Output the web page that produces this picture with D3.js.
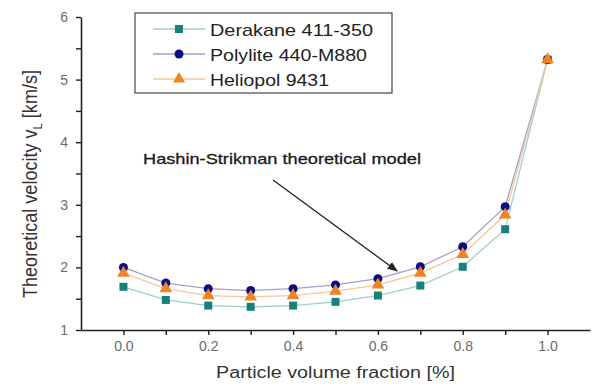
<!DOCTYPE html>
<html>
<head>
<meta charset="utf-8">
<script src="https://cdn.jsdelivr.net/npm/d3@7"></script>
<style>
  body { margin: 0; background: #fff; }
  svg { display: block; font-family: Arial, "Liberation Sans", sans-serif; }
</style>
</head>
<body>
<svg id="chart" width="592" height="387"></svg>
<script>
// data
const fractions = [0.0, 0.1, 0.2, 0.3, 0.4, 0.5, 0.6, 0.7, 0.8, 0.9, 1.0];
const derakane = [1.69, 1.48, 1.39, 1.37, 1.39, 1.45, 1.55, 1.71, 2.01, 2.61, 5.32];
const polylite = [2.00, 1.75, 1.66, 1.63, 1.66, 1.72, 1.82, 2.01, 2.33, 2.97, 5.32];
const heliopol = [1.91, 1.66, 1.55, 1.53, 1.55, 1.62, 1.72, 1.91, 2.21, 2.84, 5.32];
const seriesNames = ['Derakane 411-350', 'Polylite 440-M880', 'Heliopol 9431'];
const xTicks = [0.0, 0.2, 0.4, 0.6, 0.8, 1.0];
const yTicks = [1, 2, 3, 4, 5, 6];

// the source image is stretched sideways, so text widths are fitted
const legendWidths = [163, 157, 119];

const series = [
    { name: seriesNames[0], values: derakane, marker: d3.symbolSquare, color: '#17807c', line: '#9ccfcc' },
    { name: seriesNames[1], values: polylite, marker: d3.symbolCircle, color: '#0c0c84', line: '#a0a0cc' },
    { name: seriesNames[2], values: heliopol, marker: d3.symbolTriangle, color: '#f08424', line: '#f4c898' }
];

const svg = d3.select('#chart');
const x = d3.scaleLinear().domain([-0.1, 1.1]).range([81, 590]);
const y = d3.scaleLinear().domain([1, 6]).range([330, 17]);

// axes - ticks outward, minor ticks unlabeled
const xAxis = d3.axisBottom(x).tickValues(d3.range(0, 11).map(i => i / 10))
    .tickFormat(d => xTicks.some(t => Math.abs(t - d) < 1e-9) ? d3.format('.1f')(d) : '')
    .tickSizeInner(5).tickSizeOuter(0).tickPadding(6);
const yAxis = d3.axisLeft(y).tickValues(d3.range(1, 6.01, 0.5))
    .tickFormat(d => yTicks.includes(d) ? d : '')
    .tickSizeInner(5).tickSizeOuter(0).tickPadding(8);

const gx = svg.append('g').attr('transform', 'translate(0,330)').call(xAxis);
const gy = svg.append('g').attr('transform', 'translate(81,0)').call(yAxis);
[gx, gy].forEach(g => {
    g.select('.domain').attr('stroke', '#222').attr('stroke-width', 1.6);
    g.selectAll('.tick line').attr('stroke', '#222').attr('stroke-width', 1.4);
    g.selectAll('.tick text').attr('fill', '#6a6a6a').attr('font-size', 14)
        .attr('font-family', 'Arial, "Liberation Sans", sans-serif');
});

// axis titles
svg.append('text')
    .attr('x', 216).attr('y', 378)
    .attr('font-size', 16).attr('fill', '#333')
    .attr('textLength', 239).attr('lengthAdjust', 'spacingAndGlyphs')
    .text('Particle volume fraction [%]');

const yTitle = svg.append('text')
    .attr('transform', 'translate(37,298) scale(1.3,1) rotate(-90)')
    .attr('font-size', 16).attr('fill', '#333')
    .attr('textLength', 228).attr('lengthAdjust', 'spacingAndGlyphs');
yTitle.append('tspan').text('Theoretical velocity v');
yTitle.append('tspan').attr('font-size', 10).attr('dy', 4).text('L');
yTitle.append('tspan').attr('dy', -4).text(' [km/s]');

// series lines and markers
const line = d3.line().x((d, i) => x(fractions[i])).y(d => y(d));
series.forEach(s => {
    svg.append('path').datum(s.values)
        .attr('d', line).attr('fill', 'none')
        .attr('stroke', s.line).attr('stroke-width', 1.3);
});
series.forEach(s => {
    const sym = d3.symbol().type(s.marker).size(s.marker === d3.symbolTriangle ? 70 : 64);
    svg.append('g').selectAll('path').data(s.values).enter().append('path')
        .attr('transform', (d, i) => `translate(${x(fractions[i])},${y(d)})`)
        .attr('d', sym).attr('fill', s.color);
});

// legend
svg.append('rect')
    .attr('x', 135).attr('y', 13).attr('width', 257).attr('height', 80)
    .attr('fill', '#fff').attr('stroke', '#444').attr('stroke-width', 1.2);
series.forEach((s, i) => {
    const ly = 29 + i * 25;
    svg.append('line').attr('x1', 153).attr('x2', 205).attr('y1', ly).attr('y2', ly)
        .attr('stroke', s.line).attr('stroke-width', 1.3);
    svg.append('path').attr('transform', `translate(179,${ly})`)
        .attr('d', d3.symbol().type(s.marker).size(64)()).attr('fill', s.color);
    svg.append('text').attr('x', 210).attr('y', ly + 7)
        .attr('font-size', 17).attr('fill', '#222')
        .attr('textLength', legendWidths[i]).attr('lengthAdjust', 'spacingAndGlyphs')
        .text(s.name);
});

// annotation
svg.append('defs').append('marker')
    .attr('id', 'arrow').attr('viewBox', '0 0 10 10')
    .attr('refX', 9).attr('refY', 5).attr('markerWidth', 8).attr('markerHeight', 8)
    .attr('orient', 'auto')
    .append('path').attr('d', 'M0,1 L10,5 L0,9 Z').attr('fill', '#222');
svg.append('text').attr('x', 143).attr('y', 164)
    .attr('font-size', 15).attr('fill', '#1a1a1a')
    .attr('textLength', 278).attr('lengthAdjust', 'spacingAndGlyphs')
    .style('paint-order', 'stroke').attr('stroke', '#1a1a1a').attr('stroke-width', 0.3)
    .text('Hashin-Strikman theoretical model');
svg.append('line')
    .attr('x1', 273).attr('y1', 180).attr('x2', 397).attr('y2', 271)
    .attr('stroke', '#222').attr('stroke-width', 1.3).attr('marker-end', 'url(#arrow)');
</script>
</body>
</html>
